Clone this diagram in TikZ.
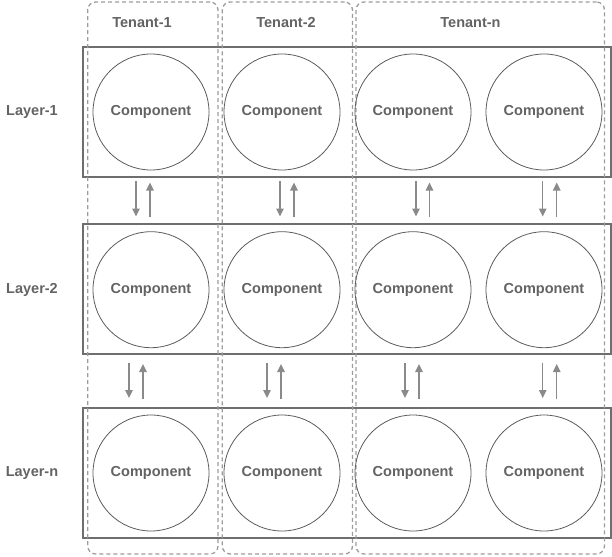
\documentclass[tikz,border=0pt]{standalone}
\usepackage{fontspec}
\setmainfont{Liberation Sans}
\usetikzlibrary{arrows.meta}
\definecolor{txtc}{HTML}{636363}
\definecolor{boxc}{HTML}{6E6E6E}
\definecolor{circc}{HTML}{5C5C5C}
\definecolor{dashc}{HTML}{9C9C9C}
\definecolor{arrc}{HTML}{8A8A8A}
\begin{document}
\begin{tikzpicture}[x=1pt,y=-1pt,
  lbl/.style={text=txtc,font=\fontsize{14.5}{16}\selectfont\bfseries,inner sep=0pt},
  layerbox/.style={draw=boxc,line width=2pt,minimum width=528pt,minimum height=130pt,inner sep=0pt},
  tenantbox/.style={draw=dashc,line width=1.3pt,dash pattern=on 4pt off 3pt,rounded corners=8pt,inner sep=0pt,minimum height=552pt},
  comp/.style={circle,draw=circc,line width=0.8pt,minimum size=116pt,inner sep=0pt,text=txtc,font=\fontsize{14.5}{16}\selectfont\bfseries},
  flow/.style={draw=arrc,line width=1.3pt,-{Triangle[length=8pt,width=7.5pt]}}
]
\useasboundingbox (0,0) rectangle (612,556);

% layers
\node[layerbox] (L1) at (347,112) {};
\node[layerbox] (L2) at (347,289) {};
\node[layerbox] (L3) at (347,473) {};

% tenants
\node[tenantbox,minimum width=130.3pt] (T1) at (152.85,278) {};
\node[tenantbox,minimum width=130.2pt] (T2) at (287.4,278) {};
\node[tenantbox,minimum width=248.5pt] (T3) at (480.25,278) {};

% labels
\node[lbl] (t1) at (142,23) {Tenant-1};
\node[lbl] (t2) at (286,23) {Tenant-2};
\node[lbl] (t3) at (470.5,23) {Tenant-n};
\node[lbl] (l1) at (32,112) {Layer-1};
\node[lbl] (l2) at (32,290) {Layer-2};
\node[lbl] (l3) at (32,473) {Layer-n};

% components
\foreach \r/\y in {1/112,2/289.7,3/473}{
  \node[comp] (c\r a) at (151,\y) {Component};
  \node[comp] (c\r b) at (282,\y) {Component};
  \node[comp] (c\r c) at (413,\y) {Component};
  \node[comp] (c\r d) at (544,\y) {Component};
}

% arrows between layer 1 and 2
\foreach \n/\xd/\xu in {a/136/150,b/280/294,c/416/429.5,d/542.7/556.7}{
  \coordinate (d1\n s) at (\xd,181);
  \coordinate (d1\n e) at (\xd,216.5);
  \coordinate (u1\n s) at (\xu,217.3);
  \coordinate (u1\n e) at (\xu,182.5);
  \draw[flow] (d1\n s) -- (d1\n e);
  \draw[flow] (u1\n s) -- (u1\n e);
}
% arrows between layer 2 and n
\foreach \n/\xd/\xu in {a/129/143,b/267/281,c/405/419,d/542.7/556.7}{
  \coordinate (d2\n s) at (\xd,362.7);
  \coordinate (d2\n e) at (\xd,398);
  \coordinate (u2\n s) at (\xu,399.3);
  \coordinate (u2\n e) at (\xu,364);
  \draw[flow] (d2\n s) -- (d2\n e);
  \draw[flow] (u2\n s) -- (u2\n e);
}
\end{tikzpicture}
\end{document}
